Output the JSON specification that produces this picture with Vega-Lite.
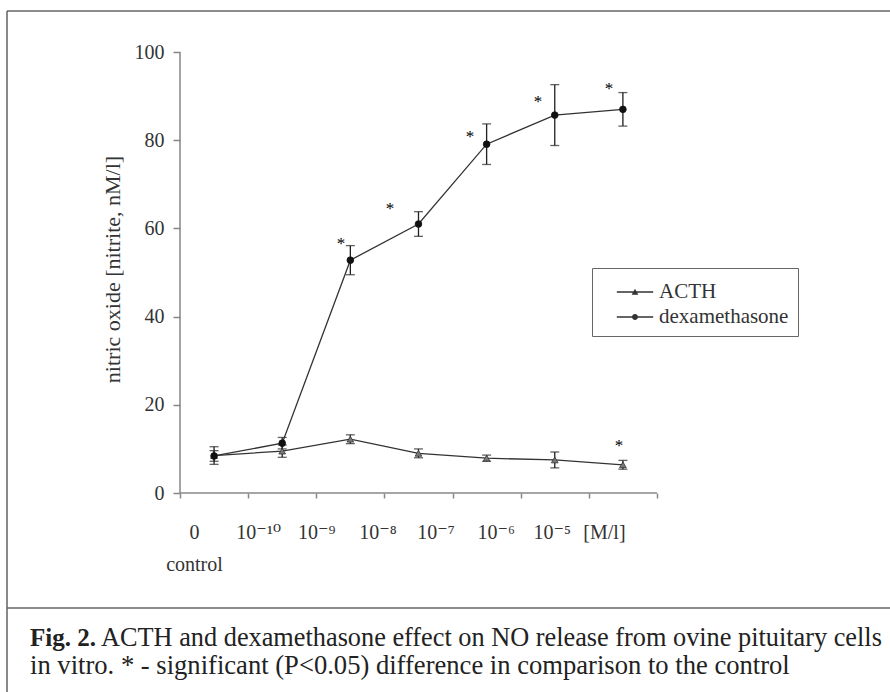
{
  "$schema": "https://vega.github.io/schema/vega-lite/v6.json",
  "width": 883,
  "height": 681,
  "autosize": "none",
  "padding": {"left": 7, "top": 11, "right": 0, "bottom": 0},
  "background": "white",
  "config": {"view": {"stroke": null}, "font": "Liberation Serif"},
  "datasets": {
    "no": [
      {"series": "ACTH", "logc": -11, "mean": 8.5, "sd": 2.0},
      {"series": "ACTH", "logc": -10, "mean": 9.5, "sd": 1.4},
      {"series": "ACTH", "logc": -9, "mean": 12.2, "sd": 1.0},
      {"series": "ACTH", "logc": -8, "mean": 9.0, "sd": 1.0},
      {"series": "ACTH", "logc": -7, "mean": 7.9, "sd": 0.7},
      {"series": "ACTH", "logc": -6, "mean": 7.5, "sd": 1.8},
      {"series": "ACTH", "logc": -5, "mean": 6.4, "sd": 1.0},
      {"series": "dexamethasone", "logc": -11, "mean": 8.4, "sd": 1.2},
      {"series": "dexamethasone", "logc": -10, "mean": 11.3, "sd": 1.3},
      {"series": "dexamethasone", "logc": -9, "mean": 52.8, "sd": 3.3},
      {"series": "dexamethasone", "logc": -8, "mean": 61.0, "sd": 2.8},
      {"series": "dexamethasone", "logc": -7, "mean": 79.1, "sd": 4.6},
      {"series": "dexamethasone", "logc": -6, "mean": 85.7, "sd": 6.9},
      {"series": "dexamethasone", "logc": -5, "mean": 87.0, "sd": 3.8}
    ],
    "stars": [
      {"series": "dexamethasone", "logc": -9.137, "y": 57.4},
      {"series": "dexamethasone", "logc": -8.418, "y": 65.3},
      {"series": "dexamethasone", "logc": -7.244, "y": 81.6},
      {"series": "dexamethasone", "logc": -6.246, "y": 89.6},
      {"series": "dexamethasone", "logc": -5.204, "y": 92.5},
      {"series": "ACTH", "logc": -5.057, "y": 11.6}
    ],
    "axislines": [
      {"axis": "x", "x1": -11.5, "x2": -4.5, "y1": 0, "y2": 0},
      {"axis": "y", "x1": -11.5, "x2": -11.5, "y1": 0, "y2": 100}
    ]
  },
  "layer": [
    {
      "data": {"name": "no"},
      "mark": {"type": "line", "color": "#333333", "strokeWidth": 1.3},
      "encoding": {
        "x": {
          "field": "logc",
          "type": "quantitative",
          "scale": {"domain": [-14.039, -1.08], "nice": false, "zero": false},
          "axis": {
            "values": [-11.5, -10.5, -9.5, -8.5, -7.5, -6.5, -5.5, -4.5],
            "domain": false,
            "grid": false,
            "offset": -199,
            "tickSize": 5,
            "tickColor": "#888888",
            "tickWidth": 1.51,
            "labelFont": "Liberation Serif, DejaVu Serif",
            "labelFontSize": 20,
            "labelColor": "#333333",
            "labelAlign": "center",
            "labelBaseline": "top",
            "labelPadding": 24,
            "labelLineHeight": 32,
            "labelOverlap": false,
            "labelFlush": false,
            "labelExpr": "datum.value == -11.5 ? ['0', 'control'] : ['', '10⁻¹⁰', '10⁻⁹', '10⁻⁸', '10⁻⁷', '10⁻⁶', '10⁻⁵', '[M/l]'][datum.value + 11.5]",
            "labelOffset": {
              "condition": [
                {"test": "datum.value == -11.5", "value": 14},
                {"test": "datum.value == -10.5", "value": 10},
                {"test": "datum.value == -9.5", "value": 0},
                {"test": "datum.value == -8.5", "value": -7},
                {"test": "datum.value == -7.5", "value": -17},
                {"test": "datum.value == -6.5", "value": -25},
                {"test": "datum.value == -5.5", "value": -37}
              ],
              "value": -53
            },
            "title": null
          }
        },
        "y": {
          "field": "mean",
          "type": "quantitative",
          "title": "nitric oxide [nitrite, nM/l]",
          "scale": {"domain": [-45.12, 109.3], "nice": false, "zero": false},
          "axis": {
            "values": [0, 20, 40, 60, 80, 100],
            "domain": false,
            "grid": false,
            "offset": -173,
            "tickSize": 7,
            "tickColor": "#888888",
            "tickWidth": 1.52,
            "labelFont": "Liberation Serif",
            "labelFontSize": 20,
            "labelColor": "#333333",
            "labelPadding": 9,
            "labelFlush": false,
            "labelOverlap": false,
            "titleFont": "Liberation Serif",
            "titleFontSize": 22,
            "titleFontWeight": "normal",
            "titleColor": "#333333",
            "titleX": -56,
            "titleY": 258
          }
        },
        "detail": {"field": "series"}
      }
    },
    {
      "data": {"name": "no"},
      "mark": {
        "type": "errorbar",
        "ticks": {"size": 9, "thickness": 1.31, "color": "#222222"},
        "rule": {"strokeWidth": 1.32, "color": "#222222"}
      },
      "encoding": {
        "x": {"field": "logc", "type": "quantitative", "title": null},
        "y": {"field": "mean", "type": "quantitative", "title": "nitric oxide [nitrite, nM/l]"},
        "yError": {"field": "sd"},
        "detail": {"field": "series"}
      }
    },
    {
      "data": {"name": "no"},
      "transform": [{"filter": "datum.series === 'ACTH'"}],
      "mark": {"type": "point", "shape": "triangle-up", "filled": true, "opacity": 1, "size": 45, "fill": "#7a7a7a", "stroke": "#333333", "strokeWidth": 0.8},
      "encoding": {
        "x": {"field": "logc", "type": "quantitative", "title": null},
        "y": {"field": "mean", "type": "quantitative", "title": "nitric oxide [nitrite, nM/l]"}
      }
    },
    {
      "data": {"name": "no"},
      "transform": [{"filter": "datum.series === 'dexamethasone'"}],
      "mark": {"type": "point", "shape": "circle", "filled": true, "opacity": 1, "size": 45, "fill": "#111111", "stroke": "#111111", "strokeWidth": 0.8},
      "encoding": {
        "x": {"field": "logc", "type": "quantitative", "title": null},
        "y": {"field": "mean", "type": "quantitative", "title": "nitric oxide [nitrite, nM/l]"}
      }
    },
    {
      "data": {"name": "no"},
      "mark": {"type": "point", "filled": true, "opacity": 0, "fill": "#333333"},
      "encoding": {
        "x": {"field": "logc", "type": "quantitative", "title": null},
        "y": {"field": "mean", "type": "quantitative", "title": "nitric oxide [nitrite, nM/l]"},
        "shape": {
          "field": "series",
          "type": "nominal",
          "scale": {
            "domain": ["ACTH", "dexamethasone"],
            "range": [
              "M-1.3,-0.05H1.3V0.05H-1.3ZM-0.24,0.2L0,-0.24L0.24,0.2Z",
              "M-1.3,-0.05H1.3V0.05H-1.3ZM0.21,0A0.21,0.21,0,1,1,-0.21,0A0.21,0.21,0,1,1,0.21,0Z"
            ]
          },
          "legend": {
            "title": null,
            "orient": "none",
            "legendX": 585,
            "legendY": 257,
            "strokeColor": "#666666",
            "fillColor": "white",
            "padding": 9,
            "labelFont": "Liberation Serif",
            "labelFontSize": 21,
            "labelColor": "#333333",
            "symbolSize": 784,
            "symbolOffset": 19,
            "labelOffset": 9,
            "rowPadding": 0,
            "symbolOpacity": 1,
            "symbolFillColor": "#333333"
          }
        }
      }
    },
    {
      "data": {"name": "stars"},
      "mark": {"type": "text", "text": "*", "font": "Liberation Serif", "fontSize": 17, "color": "#000000", "baseline": "middle", "dy": 4},
      "encoding": {
        "x": {"field": "logc", "type": "quantitative", "title": null},
        "y": {"field": "y", "type": "quantitative", "title": "nitric oxide [nitrite, nM/l]"}
      }
    },
    {
      "data": {"name": "axislines"},
      "mark": {"type": "rule", "color": "#888888", "strokeWidth": 1.53},
      "encoding": {
        "x": {"field": "x1", "type": "quantitative", "title": null},
        "x2": {"field": "x2"},
        "y": {"field": "y1", "type": "quantitative", "title": "nitric oxide [nitrite, nM/l]"},
        "y2": {"field": "y2"}
      }
    },
    {
      "data": {"values": [{"edge": "top"}]},
      "mark": {"type": "rule", "color": "#666666", "strokeWidth": 1.54},
      "encoding": {"y": {"datum": 109.3, "type": "quantitative"}}
    },
    {
      "data": {"values": [{"edge": "left"}]},
      "mark": {"type": "rule", "color": "#666666", "strokeWidth": 1.55},
      "encoding": {"x": {"datum": -14.039, "type": "quantitative"}}
    },
    {
      "data": {"values": [{"edge": "caption separator"}]},
      "mark": {"type": "rule", "color": "#666666", "strokeWidth": 1.56},
      "encoding": {"y": {"datum": -26.08, "type": "quantitative"}}
    },
    {
      "data": {"values": [{"t": "Fig. 2."}]},
      "mark": {"type": "text", "font": "Liberation Serif", "fontSize": 25, "fontWeight": "bold", "color": "#222222", "align": "left", "baseline": "alphabetic"},
      "encoding": {
        "x": {"datum": -13.701, "type": "quantitative"},
        "y": {"datum": -34.7, "type": "quantitative"},
        "text": {"field": "t"}
      }
    },
    {
      "data": {"values": [{"t": "ACTH and dexamethasone effect on NO release from ovine pituitary cells"}]},
      "mark": {"type": "text", "font": "Liberation Serif", "fontSize": 26.3, "color": "#222222", "align": "left", "baseline": "alphabetic", "dx": 71},
      "encoding": {
        "x": {"datum": -13.701, "type": "quantitative"},
        "y": {"datum": -34.7, "type": "quantitative"},
        "text": {"field": "t"}
      }
    },
    {
      "data": {"values": [{"t": "in vitro. * - significant (P<0.05) difference in comparison to the control"}]},
      "mark": {"type": "text", "font": "Liberation Serif", "fontSize": 26.6, "color": "#222222", "align": "left", "baseline": "alphabetic"},
      "encoding": {
        "x": {"datum": -13.701, "type": "quantitative"},
        "y": {"datum": -41.04, "type": "quantitative"},
        "text": {"field": "t"}
      }
    }
  ]
}
